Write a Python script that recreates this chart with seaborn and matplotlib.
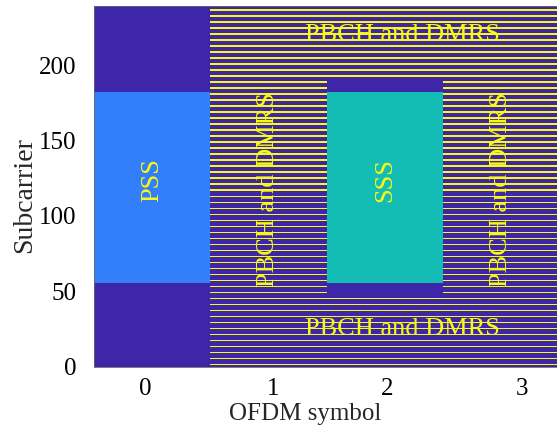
import numpy as np
import matplotlib
matplotlib.use("Agg")
import matplotlib.pyplot as plt
from matplotlib.colors import ListedColormap
import seaborn as sns

# SS block layout (subcarrier indices, inclusive)
n_subcarriers = 240
symbols = [0, 1, 2, 3]
pss_symbol = 0
sss_symbol = 2
pbch_symbols = [1, 2, 3]
pss_band = (56, 182)
sss_band = (56, 182)
pbch_sym2_bands = [(0, 47), (192, 239)]
dmrs_offset = 1
dmrs_step = 4

# grid values: 0 empty, 1 PSS, 2 SSS, 3 PBCH, 4 DMRS
level_colors = ["#3D27A8", "#327EFB", "#13BDB5", "#3D27A8", "#F8FA14"]

xtick_labels = ["0", "1", "2", "3"]
ytick_values = [0, 50, 100, 150, 200]

grid = np.zeros((n_subcarriers, len(symbols)))
grid[pss_band[0]:pss_band[1] + 1, pss_symbol] = 1
grid[sss_band[0]:sss_band[1] + 1, sss_symbol] = 2
dmrs_rows = np.arange(dmrs_offset, n_subcarriers, dmrs_step)
for s in pbch_symbols:
    if s == sss_symbol:
        bands = pbch_sym2_bands
    else:
        bands = [(0, n_subcarriers - 1)]
    for lo, hi in bands:
        grid[lo:hi + 1, s] = 3
        rows = dmrs_rows[(dmrs_rows >= lo) & (dmrs_rows <= hi)]
        grid[rows, s] = 4

sns.set_theme(style="white")
plt.rcParams["font.family"] = ["Liberation Serif", "DejaVu Serif"]

fig = plt.figure(figsize=(5.57, 4.25), dpi=100)
ax = fig.add_axes([0.1679, 0.1365, 0.8366, 0.8494])
sns.heatmap(grid, cmap=ListedColormap(level_colors), vmin=-0.5, vmax=4.5,
            cbar=False, ax=ax, xticklabels=False, yticklabels=False)
ax.set_xlim(0, 4)
ax.set_ylim(0, n_subcarriers)

for sp in ax.spines.values():
    sp.set_visible(True)
    sp.set_color("#666666")
    sp.set_linewidth(0.6)

# tick labels (placed as in the reference) and inward tick marks
ax.set_xticks([0.44, 1.54, 2.52, 3.68])
ax.set_xticklabels(xtick_labels)
ax.set_xticks([0.5, 1.5, 2.0, 2.5, 3.0, 3.5], minor=True)
ax.set_yticks([v + 0.5 for v in ytick_values])
ax.set_yticklabels([str(v) for v in ytick_values])
ax.tick_params(axis="x", which="major", length=0, pad=8, labelsize=18, colors="black")
ax.tick_params(axis="x", which="minor", direction="in", length=4, width=0.6,
               color="#444444", top=True, bottom=True)
ax.tick_params(axis="y", which="major", direction="in", length=4, width=0.6,
               color="#444444", left=True, pad=12, labelsize=18, labelcolor="black")

ax.set_xlabel("OFDM symbol", fontsize=18)
ax.xaxis.set_label_coords(0.454, -0.1)
ax.set_ylabel("Subcarrier", fontsize=20)
ax.yaxis.set_label_coords(-0.122, 0.475)

txt = dict(color="#F8FA14", fontsize=19, ha="center", va="center")
ax.text(0.5, 124, "PSS", rotation=90, **txt)
ax.text(2.5, 124, "SSS", rotation=90, **txt)
ax.text(1.5, 118, "PBCH and DMRS", rotation=90, **txt)
ax.text(3.5, 118, "PBCH and DMRS", rotation=90, **txt)
ax.text(2.65, 221, "PBCH and DMRS", **txt)
ax.text(2.65, 25, "PBCH and DMRS", **txt)

fig.savefig("out.png", dpi=100)
